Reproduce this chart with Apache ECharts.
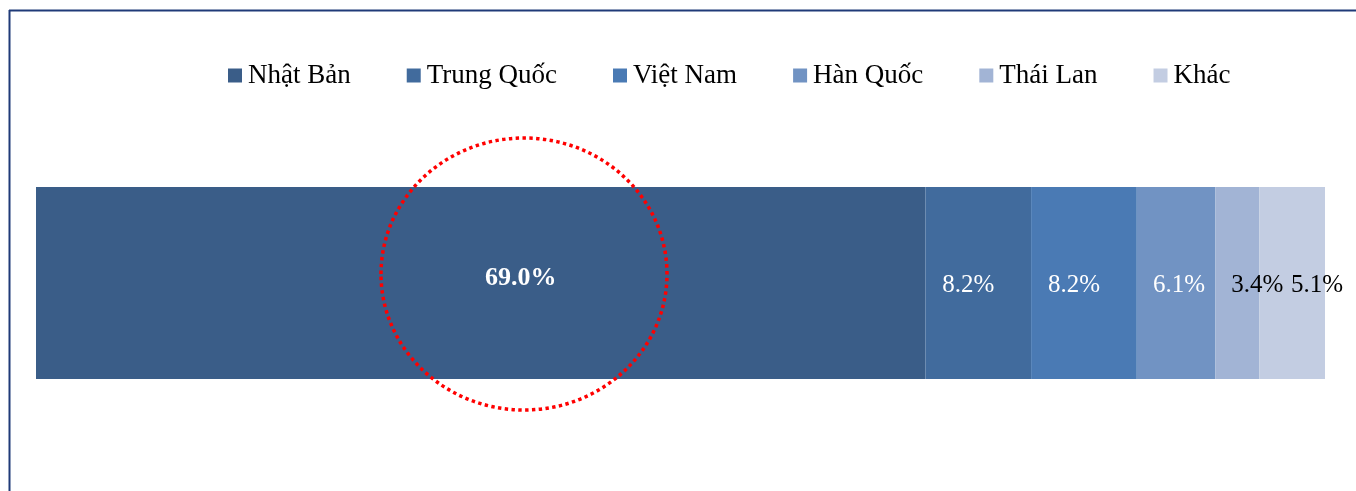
<!DOCTYPE html>
<html>
<head>
<meta charset="utf-8">
<script src="https://cdn.jsdelivr.net/npm/echarts@6/dist/echarts.min.js"></script>
<style>
html, body { margin: 0; padding: 0; background: #fff; }
#chart { width: 1356px; height: 491px; }
</style>
</head>
<body>
<div id="chart"></div>
<script>
// thị phần theo nước (%)
var countries = ["Nhật Bản", "Trung Quốc", "Việt Nam", "Hàn Quốc", "Thái Lan", "Khác"];
var shares = [69.0, 8.2, 8.2, 6.1, 3.4, 5.1];
var colors = ["#3A5D88", "#416B9D", "#4A7AB4", "#7193C3", "#A2B4D5", "#C3CDE2"];
var labelColors = ["#fff", "#fff", "#fff", "#fff", "#000", "#000"];
// vi tri nhan lech so voi tam (giong Excel)
var labelOffsets = [[40, -5], [-10, 2], [-10, 2], [3, 2], [20, 2], [25, 2]];

var font = "'Times New Roman', 'Liberation Serif', serif";
var chart = echarts.init(document.getElementById("chart"));

var series = [];
for (var i = 0; i < countries.length; i++) {
  series.push({
    name: countries[i],
    type: "bar",
    stack: "total",
    barWidth: "100%",
    itemStyle: { color: colors[i] },
    label: {
      show: true,
      position: "inside",
      offset: labelOffsets[i],
      color: labelColors[i],
      fontFamily: font,
      fontSize: i === 0 ? 26 : 25,
      fontWeight: i === 0 ? "bold" : "normal",
      formatter: function (p) { return p.value.toFixed(1) + "%"; }
    },
    data: [shares[i]]
  });
}

chart.setOption({
  animation: false,
  color: colors,
  legend: {
    left: 228,
    top: 62,
    padding: 0,
    icon: "rect",
    itemWidth: 14,
    itemHeight: 14,
    itemGap: 56,
    textStyle: { fontFamily: font, fontSize: 27, lineHeight: 27, color: "#000", padding: [0, 0, 0, 1] },
    data: countries
  },
  grid: { left: 36, right: 31, top: 187, bottom: 112 },
  xAxis: { type: "value", min: 0, max: 100, show: false },
  yAxis: { type: "category", data: [""], show: false },
  series: series,
  graphic: [
    { type: "line", shape: { x1: 9, y1: 10.5, x2: 1356, y2: 10.5 }, style: { stroke: "#1F3A78", lineWidth: 2 } },
    { type: "line", shape: { x1: 9.5, y1: 10, x2: 9.5, y2: 491 }, style: { stroke: "#1F3A78", lineWidth: 2 } },
    {
      type: "ellipse",
      shape: { cx: 524, cy: 274, rx: 143, ry: 136 },
      style: { fill: null, stroke: "#FF0000", lineWidth: 3.5, lineDash: [3.4, 3.4] },
      z: 100
    }
  ]
});
</script>
</body>
</html>
